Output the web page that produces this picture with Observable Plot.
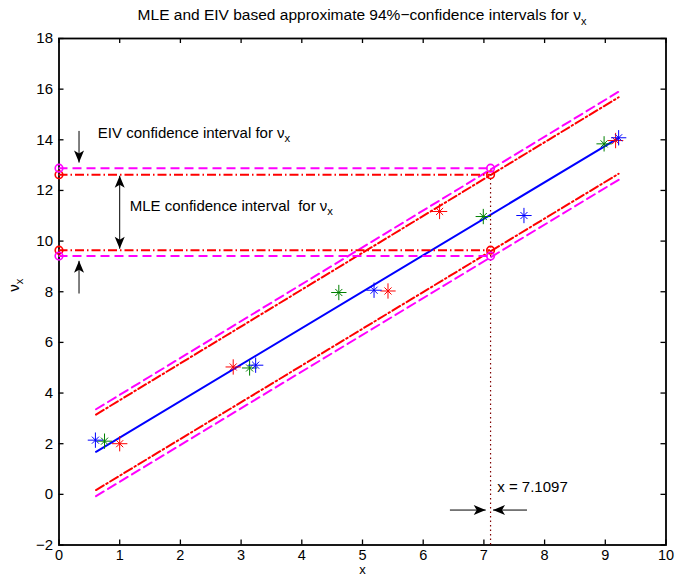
<!DOCTYPE html>
<html>
<head>
<meta charset="utf-8">
<script src="https://cdn.jsdelivr.net/npm/d3@7"></script>
<script src="https://cdn.jsdelivr.net/npm/@observablehq/plot@0.6"></script>
<style>
  body { margin: 0; background: #fff; }
  #wrap { position: relative; width: 689px; height: 581px; font-family: 'Liberation Sans', Arial, Helvetica, sans-serif; }
  #title { position: absolute; top: 6px; left: 58.5px; width: 607px; text-align: center; font-size: 15.5px; color: #000; white-space: nowrap; z-index: 2; }
  #title .sub { font-size: 11px; position: relative; top: 5px; }
  #chart { position: absolute; top: 0; left: 0; }
</style>
</head>
<body>
<div id="wrap">
  <div id="title">MLE and EIV based approximate 94%−confidence intervals for ν<span class="sub">x</span></div>
  <div id="chart"></div>
</div>
<script>
// ---- data ----
const xTickValues = [0, 1, 2, 3, 4, 5, 6, 7, 8, 9, 10];
const yTickValues = [-2, 0, 2, 4, 6, 8, 10, 12, 14, 16, 18];

const redX   = [1.00, 2.87, 5.42, 6.27, 9.17];
const redY   = [2.00, 5.03, 8.03, 11.17, 13.97];
const greenX = [0.75, 3.14, 4.61, 6.99, 8.98];
const greenY = [2.10, 4.99, 7.97, 10.97, 13.84];
const blueX  = [0.60, 3.24, 5.19, 7.66, 9.22];
const blueY  = [2.14, 5.10, 8.06, 11.01, 14.08];

const fitX = [0.61, 9.20];
const fitY = [1.68, 14.05];

const bandX    = [0.61, 9.22];
const mleUpper = [3.15, 15.68];
const mleLower = [0.17, 12.66];
const eivUpper = [3.36, 15.90];
const eivLower = [-0.07, 12.42];

const xCut  = 7.1097;
const mleCI = [9.64, 12.62];
const eivCI = [9.41, 12.88];

const arrowX1 = [0.33, 0.33, 6.44, 7.71];
const arrowY1 = [14.35, 7.93, -0.62, -0.62];
const arrowX2 = [0.33, 0.33, 7.03, 7.15];
const arrowY2 = [13.10, 9.22, -0.62, -0.62];
const mleArrowX = [1.0];
const mleArrowY1 = [9.70];
const mleArrowY2 = [12.58];

const annotText = ["EIV confidence interval for ν_x", "MLE confidence interval  for ν_x", "x = 7.1097"];
const annotX = [0.64, 1.165, 7.22];
const annotY = [14.25, 11.37, 0.30];

const xLabel = "x";
const yLabel = "ν_x";

// ---- helpers ----
const pts = (xs, ys) => xs.map((x, i) => ({x, y: ys[i]}));
const W = 689, H = 581, mL = 58.5, mR = 23.5, mT = 38, mB = 36.5;
const innerW = W - mL - mR, innerH = H - mT - mB;

const RED = "#ff0000", MAG = "#ff00ff", GREEN = "#008000", BLUE = "#0000ff";
const dashDot = "9,3,1.5,3", dashed = "9,5";

const stars = (xs, ys, color) => [
  Plot.dot(pts(xs, ys), {x: "x", y: "y", symbol: "plus", r: 5, stroke: color, strokeWidth: 1}),
  Plot.dot(pts(xs, ys), {x: "x", y: "y", symbol: "times", r: 3.3, stroke: color, strokeWidth: 1})
];

const circles = (ys) => ys.flatMap(y => [0, xCut].map(x => ({x, y})));

const arrows = arrowX1.map((x1, i) => ({x1, y1: arrowY1[i], x2: arrowX2[i], y2: arrowY2[i]}));
const dblArrows = mleArrowX.map((x, i) => ({x1: x, y1: mleArrowY1[i], x2: x, y2: mleArrowY2[i]}));
const annots = annotText.map((t, i) => ({t, x: annotX[i], y: annotY[i]}));

const plot = Plot.plot({
  width: W, height: H,
  marginLeft: mL, marginRight: mR, marginTop: mT, marginBottom: mB,
  x: {domain: [0, 10]},
  y: {domain: [-2, 18]},
  style: {fontFamily: "'Liberation Sans', Arial, Helvetica, sans-serif", fontSize: "15px", background: "white", color: "black", overflow: "visible"},
  marks: [
    Plot.frame({stroke: "black", strokeWidth: 1.8}),
    Plot.tickX(xTickValues, {x: d => d, insetTop: innerH - 5, stroke: "black", strokeWidth: 1.3}),
    Plot.tickX(xTickValues, {x: d => d, insetBottom: innerH - 5, stroke: "black", strokeWidth: 1.3}),
    Plot.tickY(yTickValues, {y: d => d, insetRight: innerW - 5, stroke: "black", strokeWidth: 1.3}),
    Plot.tickY(yTickValues, {y: d => d, insetLeft: innerW - 5, stroke: "black", strokeWidth: 1.3}),
    Plot.axisX({ticks: xTickValues, tickSize: 0, tickPadding: 4.5, fontSize: 14.5, label: null}),
    Plot.axisY({ticks: yTickValues, tickSize: 0, tickPadding: 6, label: null}),

    Plot.line(pts(bandX, mleUpper), {x: "x", y: "y", stroke: RED, strokeWidth: 2, strokeDasharray: dashDot}),
    Plot.line(pts(bandX, mleLower), {x: "x", y: "y", stroke: RED, strokeWidth: 2, strokeDasharray: dashDot}),
    Plot.line(pts(bandX, eivUpper), {x: "x", y: "y", stroke: MAG, strokeWidth: 2, strokeDasharray: dashed}),
    Plot.line(pts(bandX, eivLower), {x: "x", y: "y", stroke: MAG, strokeWidth: 2, strokeDasharray: dashed}),
    Plot.line(pts(fitX, fitY), {x: "x", y: "y", stroke: BLUE, strokeWidth: 2}),

    Plot.ruleY(mleCI, {y: d => d, x1: () => 0, x2: () => xCut, stroke: RED, strokeWidth: 2, strokeDasharray: dashDot}),
    Plot.ruleY(eivCI, {y: d => d, x1: () => 0, x2: () => xCut, stroke: MAG, strokeWidth: 2, strokeDasharray: dashed}),
    Plot.ruleX([xCut], {x: d => d, y1: () => -2, y2: () => mleCI[1], stroke: "#800000", strokeWidth: 1.2, strokeDasharray: "1.5,3"}),

    Plot.dot(circles(mleCI), {x: "x", y: "y", r: 3.8, stroke: RED, strokeWidth: 1.6, fill: "none"}),
    Plot.dot(circles(eivCI), {x: "x", y: "y", r: 3.8, stroke: MAG, strokeWidth: 1.6, fill: "none"}),

    ...stars(redX, redY, RED),
    ...stars(greenX, greenY, GREEN),
    ...stars(blueX, blueY, BLUE),

    Plot.link(arrows, {x1: "x1", y1: "y1", x2: "x2", y2: "y2", stroke: "black", strokeWidth: 1}),
    Plot.link(dblArrows, {x1: "x1", y1: "y1", x2: "x2", y2: "y2", stroke: "black", strokeWidth: 1}),

    Plot.text(annots, {x: "x", y: "y", text: "t", textAnchor: "start", fontSize: 15, fill: "black"}),
    Plot.text([yLabel], {frameAnchor: "left", dx: -44.5, rotate: -90, fontSize: 15, fill: "black"}),
    Plot.text([xLabel], {frameAnchor: "bottom", dy: 29, fontSize: 13, fill: "black"})
  ]
});

document.getElementById("chart").appendChild(plot);

// ---- post-processing: arrowheads and subscripts ----
const svg = d3.select(plot);
const defs = svg.insert("defs", ":first-child");
defs.append("marker")
  .attr("id", "ahead")
  .attr("viewBox", "-13 -6 14 12")
  .attr("markerWidth", 14).attr("markerHeight", 12)
  .attr("refX", 0).attr("refY", 0)
  .attr("markerUnits", "userSpaceOnUse")
  .attr("orient", "auto-start-reverse")
  .append("path")
  .attr("d", "M0,0L-12,-5L-9,0L-12,5Z")
  .attr("fill", "black");

const linkGroups = svg.selectAll('g[aria-label="link"]').nodes();
linkGroups.forEach((g, gi) => {
  d3.select(g).selectAll("path").each(function() {
    this.setAttribute("marker-end", "url(#ahead)");
    if (gi === 1) this.setAttribute("marker-start", "url(#ahead)");
  });
});

svg.selectAll("text").each(function() {
  const t = this.textContent;
  if (t.includes("_x")) {
    const base = t.replace("_x", "");
    this.textContent = base;
    this.setAttribute("xml:space", "preserve");
    this.style.whiteSpace = "pre";
    d3.select(this).append("tspan").attr("dy", "0.35em").attr("font-size", "0.75em").text("x");
  } else if (t.includes("  ")) {
    this.style.whiteSpace = "pre";
  }
});
</script>
</body>
</html>
